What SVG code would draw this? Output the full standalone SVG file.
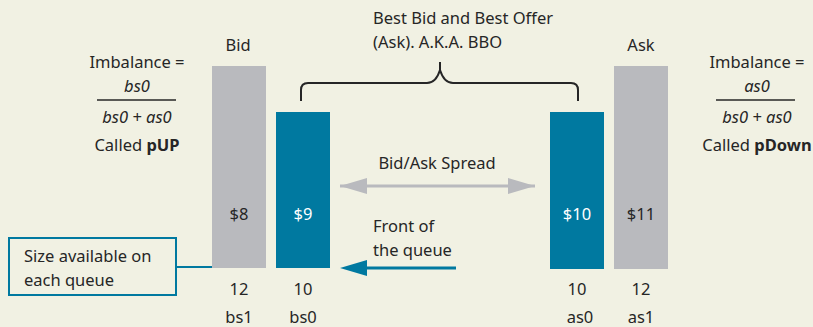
<svg xmlns="http://www.w3.org/2000/svg" width="813" height="327" viewBox="0 0 813 327">
  <style>
    text { font-family: "Noto Sans", "Liberation Sans", sans-serif; font-size: 16.5px; fill: #262626; }
    .mid { text-anchor: middle; }
    .it { font-style: italic; }
    .w { fill: #ffffff; }
    .b { font-weight: bold; }
    .gray { fill: #b9babe; }
    .blue { fill: #0079a0; }
  </style>
  <defs>
    <marker id="grayHead" viewBox="0 0 10 10" refX="10" refY="5" markerWidth="27" markerHeight="16" markerUnits="userSpaceOnUse" orient="auto-start-reverse" preserveAspectRatio="none">
      <path d="M0,0 L10,5 L0,10 z" fill="#b9babe"/>
    </marker>
  </defs>
  <rect width="813" height="327" fill="#f1f1e3"/>

  <!-- left imbalance formula -->
  <g id="formula-bid">
    <text class="mid" x="137" y="68">Imbalance =</text>
    <text class="mid it" x="137" y="92">bs0</text>
    <line x1="97" y1="100" x2="176" y2="100" stroke="#262626" stroke-width="1.5"/>
    <text class="mid it" x="137" y="123">bs0 + as0</text>
    <text class="mid" x="137" y="151">Called <tspan class="b">pUP</tspan></text>
  </g>

  <!-- right imbalance formula -->
  <g id="formula-ask">
    <text class="mid" x="757" y="68">Imbalance =</text>
    <text class="mid it" x="757" y="92">as0</text>
    <line x1="716" y1="100" x2="795" y2="100" stroke="#262626" stroke-width="1.5"/>
    <text class="mid it" x="757" y="123">bs0 + as0</text>
    <text class="mid" x="757" y="151">Called <tspan class="b">pDown</tspan></text>
  </g>

  <!-- bid side queues -->
  <g id="bid-1">
    <text class="mid" x="238" y="51">Bid</text>
    <rect class="gray" x="212" y="66" width="54" height="202"/>
    <text class="mid" x="239" y="220">$8</text>
    <text class="mid" x="239" y="295">12</text>
    <text class="mid" x="239" y="323">bs1</text>
  </g>
  <g id="bid-0">
    <rect class="blue" x="276" y="112" width="54" height="156"/>
    <text class="mid w" x="303" y="220">$9</text>
    <text class="mid" x="303" y="295">10</text>
    <text class="mid" x="303" y="323">bs0</text>
  </g>

  <!-- ask side queues -->
  <g id="ask-0">
    <rect class="blue" x="550" y="112" width="54" height="157"/>
    <text class="mid w" x="577" y="220">$10</text>
    <text class="mid" x="577" y="295">10</text>
    <text class="mid" x="580" y="323">as0</text>
  </g>
  <g id="ask-1">
    <text class="mid" x="641" y="51">Ask</text>
    <rect class="gray" x="614" y="66" width="54" height="203"/>
    <text class="mid" x="641" y="220">$11</text>
    <text class="mid" x="641" y="295">12</text>
    <text class="mid" x="641" y="323">as1</text>
  </g>

  <!-- BBO label -->
  <g id="bbo-label">
    <text x="373" y="24">Best Bid and Best Offer</text>
    <text x="373" y="48">(Ask). A.K.A. BBO</text>
  </g>

  <!-- callout box -->
  <g id="size-callout">
    <rect x="9" y="238" width="167" height="57" fill="none" stroke="#0079a0" stroke-width="2"/>
    <text x="24" y="262">Size available on</text>
    <text x="24" y="286">each queue</text>
  </g>

  <!-- queue front label -->
  <g id="front-label">
    <text x="373" y="232">Front of</text>
    <text x="373" y="256">the queue</text>
  </g>

  <!-- spread label -->
  <g id="spread-label">
    <text class="mid" x="437" y="169">Bid/Ask Spread</text>
  </g>

  <g id="connectors">
    <!-- BBO brace -->
    <path d="M301,101 L301,90 Q301,83 308,83 L427,83 Q436,83 440,70 L440,62 M440,70 Q444,83 453,83 L571,83 Q578,83 578,90 L578,101" fill="none" stroke="#262626" stroke-width="2"/>
    <!-- spread double arrow -->
    <line x1="340" y1="186" x2="535" y2="186" stroke="#b9babe" stroke-width="3" marker-start="url(#grayHead)" marker-end="url(#grayHead)"/>
    <!-- front of queue arrow -->
    <line x1="456" y1="268" x2="360" y2="268" stroke="#0079a0" stroke-width="3"/>
    <path d="M340,268 L367,260 L367,276 z" fill="#0079a0"/>
    <!-- callout leader -->
    <line x1="176" y1="267" x2="212" y2="267" stroke="#0079a0" stroke-width="2"/>
  </g>
</svg>
